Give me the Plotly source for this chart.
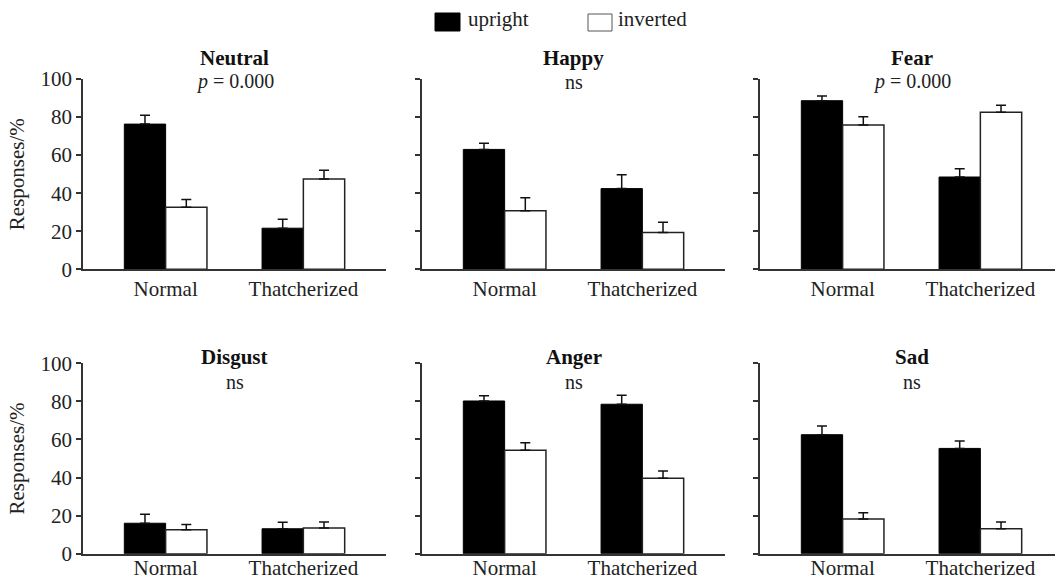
import plotly.graph_objects as go

# ---- data ----
emotions = ["Neutral", "Happy", "Fear", "Disgust", "Anger", "Sad"]
subtitles = ["<i>p</i> = 0.000", "ns", "<i>p</i> = 0.000", "ns", "ns", "ns"]
conditions = ["Normal", "Thatcherized"]
upright = [[76.3, 21.6], [63.0, 42.4], [88.6, 48.5], [16.0, 13.1], [80.2, 78.5], [62.5, 55.3]]
upright_err = [[4.7, 4.7], [3.2, 7.3], [2.5, 4.4], [4.7, 3.4], [2.8, 4.7], [4.6, 3.9]]
inverted = [[32.6, 47.4], [30.8, 19.4], [75.8, 82.5], [12.6, 13.5], [54.3, 39.6], [18.2, 13.1]]
inverted_err = [[4.1, 4.6], [6.8, 5.3], [4.4, 3.7], [2.8, 3.1], [4.0, 3.8], [3.3, 3.5]]
yticks = [0, 20, 40, 60, 80, 100]
series_names = ["upright", "inverted"]

W, H = 1055, 580
FONT = "Liberation Serif"
FS = 21
TFS = 20
AX = "#333333"

fig = go.Figure()

xdoms = [[83 / W, 386 / W], [422 / W, 725 / W], [760 / W, 1.0]]
xranges = [[-0.6, 1.6], [-0.6, 1.6], [-0.6, -0.6 + (W - 760) / (303 / 2.2)]]
ydoms = [[1 - 269.3 / H, 1 - 79 / H], [1 - 553.7 / H, 1 - 363.3 / H]]
title_px = [(58, 82), (357, 382)]  # (bold title, subtitle) vertical centres in px
label_standoff = [0, -6]

layout = {}
annotations = []
for i, emo in enumerate(emotions):
    r, c = divmod(i, 3)
    n = i + 1
    xa = "x" if n == 1 else f"x{n}"
    ya = "y" if n == 1 else f"y{n}"
    fig.add_trace(go.Bar(
        x=conditions, y=upright[i], name=series_names[0], xaxis=xa, yaxis=ya,
        marker=dict(color="black", line=dict(color="black", width=1)),
        error_y=dict(type="data", symmetric=False, array=upright_err[i],
                     arrayminus=[0, 0], color="#111", thickness=1.5, width=5),
        showlegend=False,
    ))
    fig.add_trace(go.Bar(
        x=conditions, y=inverted[i], name=series_names[1], xaxis=xa, yaxis=ya,
        marker=dict(color="white", line=dict(color="#222", width=1.5)),
        error_y=dict(type="data", symmetric=False, array=inverted_err[i],
                     arrayminus=[0, 0], color="#111", thickness=1.5, width=5),
        showlegend=False,
    ))
    xkey = "xaxis" if n == 1 else f"xaxis{n}"
    ykey = "yaxis" if n == 1 else f"yaxis{n}"
    layout[xkey] = dict(
        domain=xdoms[c], range=xranges[c], anchor=ya, type="category",
        showline=True, linecolor=AX, linewidth=1.5, ticks="",
        showgrid=False, zeroline=False, fixedrange=True, automargin=False,
        tickfont=dict(family=FONT, size=FS, color="#222"),
        ticklabelstandoff=label_standoff[r],
    )
    layout[ykey] = dict(
        domain=ydoms[r], range=[0, 100], anchor=xa,
        showline=True, linecolor=AX, linewidth=1.5,
        ticks="outside", ticklen=5, tickwidth=1.5, tickcolor=AX,
        tickvals=yticks, showticklabels=(c == 0),
        showgrid=False, zeroline=False, fixedrange=True, automargin=False,
        tickfont=dict(family=FONT, size=FS, color="#222"),
    )
    if c == 0:
        layout[ykey]["title"] = dict(text="Responses/%", standoff=10,
                                     font=dict(family=FONT, size=FS, color="#222"))
    ty, sy = title_px[r]
    annotations.append(dict(x=0.5, y=1 - ty / H, xref=xa, yref="paper", text=f"<b>{emo}</b>",
                            showarrow=False, font=dict(family=FONT, size=TFS + 1, color="#111"),
                            xanchor="center", yanchor="middle"))
    annotations.append(dict(x=0.5, y=1 - sy / H, xref=xa, yref="paper", text=subtitles[i],
                            showarrow=False, font=dict(family=FONT, size=TFS, color="#222"),
                            xanchor="center", yanchor="middle"))

# legend (drawn manually)
shapes = [
    dict(type="rect", xref="paper", yref="paper", x0=435 / W, x1=460 / W,
         y0=1 - 31 / H, y1=1 - 13 / H, fillcolor="black", line=dict(color="black", width=1)),
    dict(type="rect", xref="paper", yref="paper", x0=588 / W, x1=612 / W,
         y0=1 - 31 / H, y1=1 - 14 / H, fillcolor="white", line=dict(color="#555", width=1)),
]
annotations.append(dict(x=466 / W, y=1 - 19 / H, xref="paper", yref="paper", text=series_names[0],
                        showarrow=False, xanchor="left", yanchor="middle",
                        font=dict(family=FONT, size=FS, color="#222")))
annotations.append(dict(x=616 / W, y=1 - 19 / H, xref="paper", yref="paper", text=series_names[1],
                        showarrow=False, xanchor="left", yanchor="middle",
                        font=dict(family=FONT, size=FS, color="#222")))

fig.update_layout(
    width=W, height=H, margin=dict(l=0, r=0, t=0, b=0, autoexpand=False),
    paper_bgcolor="white", plot_bgcolor="white",
    barmode="group", bargap=0.4, bargroupgap=0,
    showlegend=False, annotations=annotations, shapes=shapes,
    font=dict(family=FONT, size=FS, color="#222"),
    **layout,
)

fig.write_html("out.html", config={"displayModeBar": False},
               post_script="document.body.style.margin='0';document.body.style.overflow='hidden';")
